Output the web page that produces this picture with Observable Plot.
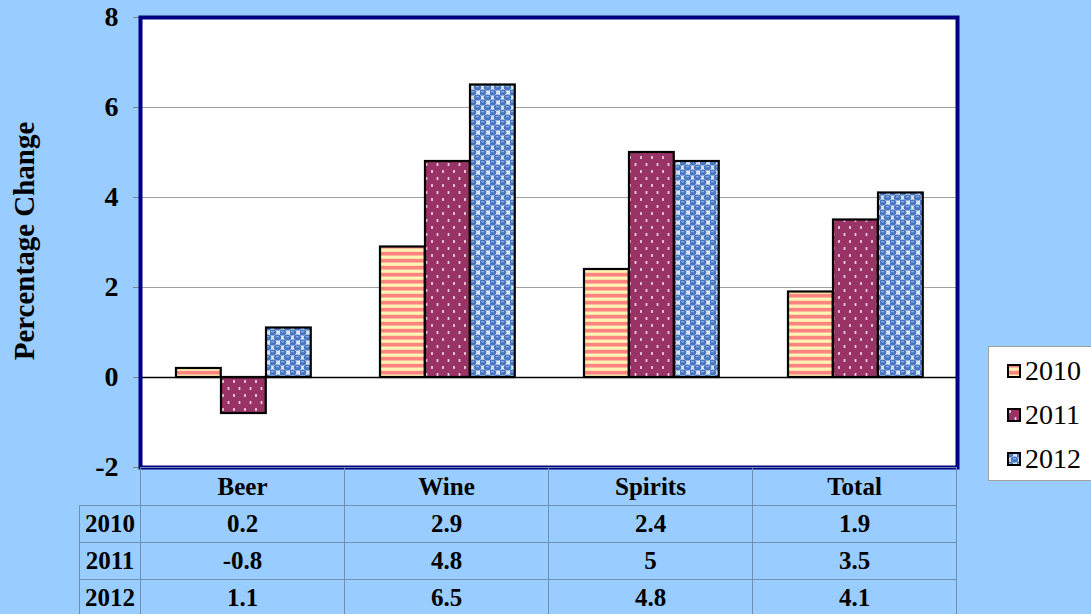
<!DOCTYPE html>
<html><head><meta charset="utf-8">
<script src="https://cdn.jsdelivr.net/npm/d3@7"></script>
<script src="https://cdn.jsdelivr.net/npm/@observablehq/plot@0.6"></script>
<style>
body{margin:0;background:#99CCFF;}
#wrap{position:relative;width:1091px;height:614px;overflow:hidden;background:#99CCFF;font-family:"Liberation Serif","Times New Roman",serif;}
#chart{position:absolute;left:0;top:0;}
#ytitle{position:absolute;left:24px;top:241px;transform:translate(-50%,-50%) rotate(-90deg);white-space:nowrap;font-family:"Liberation Serif",serif;font-weight:bold;font-size:29px;line-height:29px;color:#000;}
#legend{position:absolute;left:988px;top:346px;width:112px;height:135px;background:#fff;border:1px solid #a0a0a0;box-sizing:border-box;}
.li{position:absolute;left:18px;font-family:"Liberation Serif",serif;font-weight:normal;font-size:28px;line-height:28px;color:#000;display:flex;align-items:center;}
.li svg{margin-right:4px;}
#tbl{position:absolute;left:79px;top:467px;border-collapse:collapse;table-layout:fixed;width:877px;font-family:"Liberation Serif",serif;font-weight:bold;font-size:25px;color:#000;}
#tbl td{border:1px solid #6f8fb0;text-align:center;padding:0;overflow:hidden;}
#tbl td.blank{border:none;border-bottom:1px solid #6f8fb0;}
</style></head><body>
<svg width="0" height="0" style="position:absolute">
<defs>
<pattern id="p2010" width="7" height="7" patternUnits="userSpaceOnUse">
<rect width="7" height="7" fill="#FFF4B4"/>
<rect y="0" width="7" height="3" fill="#FF8480"/>
<rect y="3" width="7" height="1" fill="#FFB8A0"/>
<rect y="6.3" width="7" height="0.7" fill="#FFD8A8"/>
</pattern>
<pattern id="p2011" width="11" height="14" patternUnits="userSpaceOnUse">
<rect width="11" height="14" fill="#993366"/>
<rect x="2" y="2" width="2" height="3" fill="#D8A0C0"/>
<rect x="2.5" y="2.5" width="1" height="2" fill="#FAE8F2"/>
<rect x="7.5" y="9" width="2" height="3" fill="#D8A0C0"/>
<rect x="8" y="9.5" width="1" height="2" fill="#FAE8F2"/>
</pattern>
<pattern id="p2012" width="10" height="10" patternUnits="userSpaceOnUse">
<rect width="10" height="10" fill="#ffffff"/>
<rect x="0" y="0" width="10" height="10" fill="#6E96D0" opacity="0.25"/>
<ellipse cx="2.5" cy="2.5" rx="3.7" ry="3.1" fill="#4677C0"/>
<ellipse cx="7.5" cy="7.5" rx="3.7" ry="3.1" fill="#4677C0"/>
<ellipse cx="-2.5" cy="7.5" rx="3.7" ry="3.1" fill="#4677C0"/>
<ellipse cx="12.5" cy="7.5" rx="3.7" ry="3.1" fill="#4677C0"/>
<ellipse cx="7.5" cy="-2.5" rx="3.7" ry="3.1" fill="#4677C0"/>
<ellipse cx="2.5" cy="12.5" rx="3.7" ry="3.1" fill="#4677C0"/>
<rect x="1" y="1.2" width="3" height="1" fill="#9DBAE4"/>
<rect x="6" y="6.2" width="3" height="1" fill="#9DBAE4"/>
</pattern>
</defs>
</svg>
<div id="wrap">
<div id="chart"></div>
<div id="ytitle"></div>
<div id="legend"></div>
<table id="tbl"></table>
</div>
<script>
const categories = ["Beer", "Wine", "Spirits", "Total"];
const years = ["2010", "2011", "2012"];
const values2010 = [0.2, 2.9, 2.4, 1.9];
const values2011 = [-0.8, 4.8, 5, 3.5];
const values2012 = [1.1, 6.5, 4.8, 4.1];
const yTicks = [-2, 0, 2, 4, 6, 8];
const gridTicks = [2, 4, 6];
const yLabel = "Percentage Change";

const series = [values2010, values2011, values2012];
const fills = ["url(#p2010)", "url(#p2011)", "url(#p2012)"];
const rows = years.map((yr, i) => categories.map((c, j) => ({category: c, year: yr, value: series[i][j]})));

const W = 1091, H = 614, mL = 140, mR = 134, mT = 17, mB = 147;
const step = (W - mL - mR) / categories.length;
const barW = 45, lead = 35;

const plot = Plot.plot({
  width: W, height: H,
  marginLeft: mL, marginRight: mR, marginTop: mT, marginBottom: mB,
  style: {background: "transparent", fontFamily: "'Liberation Serif','Times New Roman',serif", fontSize: "28px", fontWeight: "bold", color: "#000"},
  x: {domain: categories, padding: 0, axis: null},
  y: {domain: [-2, 8]},
  marks: [
    Plot.frame({fill: "#fff", stroke: "none"}),
    Plot.ruleY(gridTicks, {stroke: "#a0a0a0", strokeWidth: 1}),
    ...rows.map((data, i) => Plot.barY(data, {
      x: "category", y: "value", fill: fills[i], stroke: "#000", strokeWidth: 2.2,
      insetLeft: lead + barW * i, insetRight: step - lead - barW * (i + 1)
    })),
    Plot.ruleY([0], {stroke: "#000", strokeWidth: 1.3}),
    Plot.axisY({ticks: yTicks, tickFormat: d => String(d), tickSize: 7, tickPadding: 15, stroke: "#808080", fill: "#000",
      label: null, fontSize: 28, fontWeight: "bold"}),
    Plot.frame({stroke: "#000080", strokeWidth: 4})
  ]
});
document.getElementById("chart").appendChild(plot);
document.getElementById("ytitle").textContent = yLabel;

// legend
const legend = document.getElementById("legend");
years.forEach((yr, i) => {
  const d = document.createElement("div");
  d.className = "li";
  d.style.top = (10 + i * 44) + "px";
  d.innerHTML = `<svg width="14" height="14"><rect x="1" y="1" width="12" height="12" fill="${fills[i]}" stroke="#000" stroke-width="2"/></svg>${yr}`;
  legend.appendChild(d);
});

// data table
const tbl = document.getElementById("tbl");
const rowHeights = [38, 37, 37, 36];
let html = `<colgroup><col style="width:61px">` + categories.map(() => `<col style="width:204px">`).join("") + `</colgroup>`;
html += `<tr style="height:${rowHeights[0]}px"><td class="blank"></td>` +
  categories.map(c => `<td>${c}</td>`).join("") + "</tr>";
years.forEach((yr, i) => {
  html += `<tr style="height:${rowHeights[i + 1]}px"><td>${yr}</td>` +
    series[i].map(v => `<td>${v}</td>`).join("") + "</tr>";
});
tbl.innerHTML = html;
</script>
</body></html>
